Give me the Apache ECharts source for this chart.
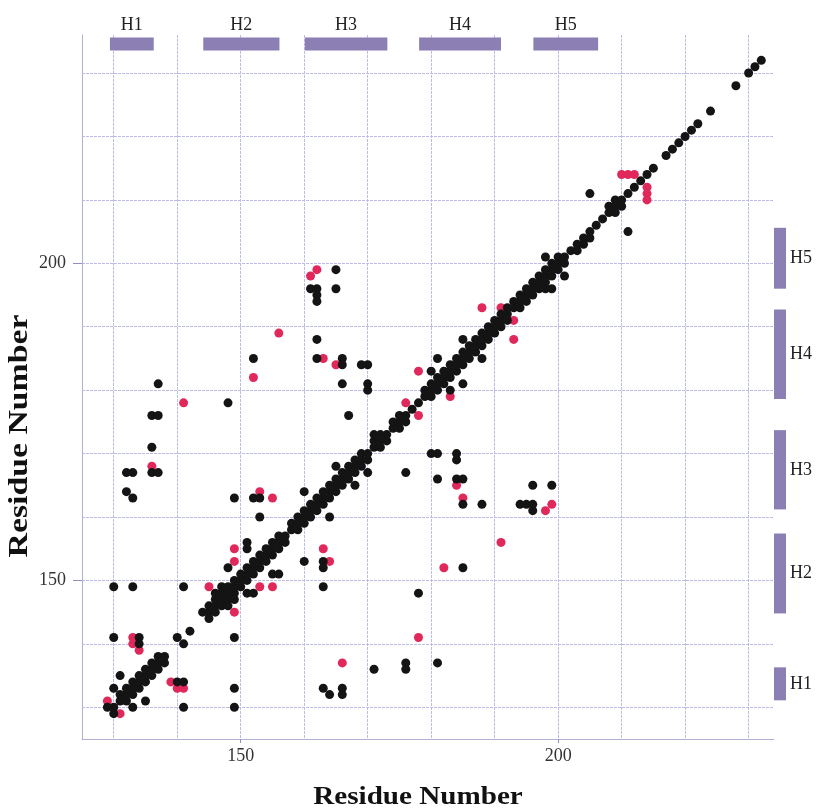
<!DOCTYPE html>
<html>
<head>
<meta charset="utf-8">
<script src="https://cdn.jsdelivr.net/npm/echarts@6/dist/echarts.min.js"></script>
<style>
  html, body { margin: 0; padding: 0; background: #ffffff; }
  #chart { width: 819px; height: 810px; }
</style>
</head>
<body>
<div id="chart"></div>
<script>
// Residue range shown on both axes
const xRange = [125, 234];
const yRange = [125, 236];
const gridValues = [130, 140, 150, 160, 170, 180, 190, 200, 210, 220, 230];
const tickLabels = [150, 200];

// Helix segments (residue ranges) drawn along the top and right edges
const helixNames = ['H1', 'H2', 'H3', 'H4', 'H5'];
const helixTopStart = [129.4, 144.1, 160.1, 178.1, 196.1];
const helixTopEnd = [136.3, 156.1, 173.1, 191.0, 206.3];
const helixRightStart = [131.1, 144.8, 161.2, 178.6, 196.0];
const helixRightEnd = [136.3, 157.4, 173.7, 192.7, 205.6];

// Residue pairs in contact (x residue, y residue)
const blackContacts = [
  // H1 backbone band
  [129,130],[130,130],[130,129],[131,131],[131,132],[132,131],[132,132],[132,133],[133,132],
  [133,133],[133,134],[134,133],[134,134],[134,135],[135,134],[135,135],[135,136],[136,135],
  [136,136],[136,137],[137,136],[137,137],[137,138],[138,137],[138,138],
  [130,133],[131,135],[133,130],[135,131],
  [140,141],[141,140],[142,142],
  [130,141],[134,141],[134,140],[140,134],[141,134],[141,130],[149,130],[149,133],[149,141],
  [130,149],[133,149],[141,149],
  // H2 band
  [144,145],[145,144],[145,145],[145,146],[146,145],[146,146],[146,147],[147,146],[147,147],
  [147,148],[148,147],[148,148],[148,149],[149,148],[149,149],[149,150],[150,149],[150,150],
  [150,151],[151,150],[151,151],[151,152],[152,151],[152,152],[152,153],[153,152],[153,153],
  [153,154],[154,153],[154,154],[154,155],[155,154],[155,155],[155,156],[156,155],[156,156],
  [156,157],[157,156],[157,157],[146,148],[147,149],[148,146],[149,147],
  [151,148],[152,148],[148,152],[155,151],[156,151],[151,156],[151,155],
  // H3 band
  [158,158],[158,159],[159,158],[159,159],[159,160],[160,159],[160,160],[160,161],[161,160],
  [161,161],[161,162],[162,161],[162,162],[162,163],[163,162],[163,163],[163,164],[164,163],
  [164,164],[164,165],[165,164],[165,165],[165,166],[166,165],[166,166],[166,167],[167,166],
  [167,167],[167,168],[168,167],[168,168],[168,169],[169,168],[169,169],[169,170],[170,169],
  [170,170],[171,171],[171,172],[172,171],[172,172],[171,173],[172,173],[173,172],[173,173],
  [165,168],[170,167],[168,165],
  // H2-H3 and H3-H4 contacts
  [149,163],[152,163],[153,163],[153,160],[160,164],[164,160],[160,153],[163,153],[163,152],[163,149],
  [132,167],[133,167],[136,167],[137,167],[132,164],[133,163],[136,171],[136,176],[137,176],[137,181],
  [148,178],[152,185],
  [165,199],[161,196],[162,196],[162,195],[162,194],[165,196],[162,188],[162,185],[166,185],
  [166,184],[169,184],[170,184],[166,181],[170,181],[170,180],[167,176],[176,167],
  // H4 band
  [174,174],[174,175],[175,174],[175,175],[175,176],[176,175],[176,176],[177,177],[178,178],
  [179,179],[179,180],[180,179],[180,180],[180,181],[181,180],[181,181],[181,182],[182,181],
  [182,182],[182,183],[183,182],[183,183],[183,184],[184,183],[184,184],[184,185],[185,184],
  [185,185],[185,186],[186,185],[186,186],[186,187],[187,186],[187,187],[187,188],[188,187],
  [188,188],[188,189],[189,188],[189,189],[189,190],[190,189],[190,190],[190,191],[191,190],
  [191,191],[191,192],[192,191],[192,192],[180,183],[181,185],[185,188],[188,185],
  [185,181],[183,180],
  // H4-H3 contacts
  [180,170],[181,170],[184,170],[184,169],[181,166],[184,166],[185,166],[185,162],[188,162],
  [194,162],[195,162],[196,162],[196,161],[196,165],[199,165],[185,152],[178,148],
  [176,137],[176,136],[181,137],[163,133],[164,132],[166,133],[166,132],[171,136],
  // H5 band
  [192,193],[193,193],[193,194],[194,193],[194,194],[194,195],[195,194],[195,195],[195,196],
  [196,195],[196,196],[196,197],[197,196],[197,197],[197,198],[198,197],[198,198],[198,199],
  [199,198],[199,199],[199,200],[200,199],[200,200],[200,201],[201,200],[201,201],[202,202],
  [203,202],[203,203],[204,203],[204,204],[205,204],[205,205],[206,206],
  [198,196],[199,196],[198,201],[201,198],
  // C-terminal tail
  [207,207],[208,208],[209,208],[208,209],[209,209],[210,209],[209,210],[210,210],
  [211,211],[212,212],[213,213],[214,214],[215,215],[217,217],[218,218],[219,219],
  [220,220],[221,221],[222,222],[224,224],[228,228],[230,230],[231,231],[232,232],
  [205,211],[211,205]
];

const redContacts = [
  [129,131],[131,129],[133,141],[133,140],[134,139],[139,134],[140,133],[141,133],
  [145,149],[149,145],[153,149],[155,149],[149,155],[149,153],[163,155],[164,153],
  [153,164],[155,163],[136,168],[141,178],[152,182],[156,189],[161,198],[162,199],
  [163,185],[165,184],[176,178],[178,176],[178,183],[183,179],[184,165],[185,163],
  [198,161],[199,162],[191,156],[182,152],[178,141],[166,137],
  [188,193],[191,193],[193,191],[193,188],
  [210,214],[211,214],[212,214],[214,212],[214,211],[214,210]
];

const barColor = '#8c7fb4';
const serif = '"Liberation Serif", "DejaVu Serif", serif';

const chart = echarts.init(document.getElementById('chart'), null, { renderer: 'canvas' });

// Helix bar along the top edge, positioned by its residue range on the x axis
function topHelix(params, api) {
  const cs = params.coordSys;
  const x0 = api.coord([api.value(0), yRange[0]])[0];
  const x1 = api.coord([api.value(1), yRange[0]])[0];
  return {
    type: 'group',
    children: [
      { type: 'rect', shape: { x: x0, y: cs.y + 2.5, width: x1 - x0, height: 13 }, style: { fill: barColor } },
      { type: 'text', style: { text: helixNames[params.dataIndex], x: (x0 + x1) / 2, y: cs.y - 1,
          align: 'center', verticalAlign: 'bottom', font: '18px ' + serif, fill: '#222' } }
    ]
  };
}

// Helix bar along the right edge, positioned by its residue range on the y axis
function rightHelix(params, api) {
  const cs = params.coordSys;
  const y0 = api.coord([xRange[0], api.value(0)])[1];
  const y1 = api.coord([xRange[0], api.value(1)])[1];
  const bx = cs.x + cs.width;
  return {
    type: 'group',
    children: [
      { type: 'rect', shape: { x: bx, y: y1, width: 12, height: y0 - y1 }, style: { fill: barColor } },
      { type: 'text', style: { text: helixNames[params.dataIndex], x: bx + 16, y: (y0 + y1) / 2,
          align: 'left', verticalAlign: 'middle', font: '18px ' + serif, fill: '#222' } }
    ]
  };
}

const gridLine = { show: true, lineStyle: { color: '#bcbce6', width: 1, type: [3, 1] } };

chart.setOption({
  animation: false,
  backgroundColor: '#ffffff',
  grid: { left: 82, right: 45, top: 35, bottom: 71 },
  xAxis: [
    { type: 'value', min: xRange[0], max: xRange[1], position: 'bottom',
      axisLine: { show: true, lineStyle: { color: '#b0b0d4' } },
      axisTick: { show: false, customValues: gridValues },
      axisLabel: { show: false },
      splitLine: gridLine },
    { type: 'value', min: xRange[0], max: xRange[1], position: 'bottom',
      axisLine: { show: false },
      axisTick: { show: true, customValues: tickLabels, length: 4, lineStyle: { color: '#9090c0' } },
      axisLabel: { customValues: tickLabels, margin: 8, color: '#333', fontSize: 18, fontFamily: serif },
      splitLine: { show: false } }
  ],
  yAxis: [
    { type: 'value', min: yRange[0], max: yRange[1], position: 'left',
      axisLine: { show: true, lineStyle: { color: '#b0b0d4' } },
      axisTick: { show: false, customValues: gridValues },
      axisLabel: { show: false },
      splitLine: gridLine },
    { type: 'value', min: yRange[0], max: yRange[1], position: 'left',
      axisLine: { show: false },
      axisTick: { show: true, customValues: tickLabels, length: 9, lineStyle: { color: '#9090c0' } },
      axisLabel: { customValues: tickLabels, margin: 16, color: '#333', fontSize: 18, fontFamily: serif },
      splitLine: { show: false } }
  ],
  graphic: [
    { type: 'text', x: 418, y: 797, scaleX: 1.12, style: { text: 'Residue Number', align: 'center', verticalAlign: 'middle',
        font: 'bold 26px ' + serif, fill: '#111' } },
    { type: 'text', x: 20, y: 436, rotation: Math.PI / 2, scaleX: 1.25, style: { text: 'Residue Number', align: 'center',
        verticalAlign: 'middle', font: 'bold 27px ' + serif, fill: '#111' } }
  ],
  series: [
    { type: 'scatter', name: 'red', data: redContacts, symbolSize: 9, itemStyle: { color: '#e0285a', opacity: 1 }, z: 3 },
    { type: 'scatter', name: 'black', data: blackContacts, symbolSize: 9, itemStyle: { color: '#141414', opacity: 1 }, z: 4 },
    { type: 'custom', name: 'topHelix', clip: false, renderItem: topHelix, z: 5,
      data: helixNames.map((n, i) => [helixTopStart[i], helixTopEnd[i]]) },
    { type: 'custom', name: 'rightHelix', clip: false, renderItem: rightHelix, z: 5,
      data: helixNames.map((n, i) => [helixRightStart[i], helixRightEnd[i]]) }
  ]
});
</script>
</body>
</html>
